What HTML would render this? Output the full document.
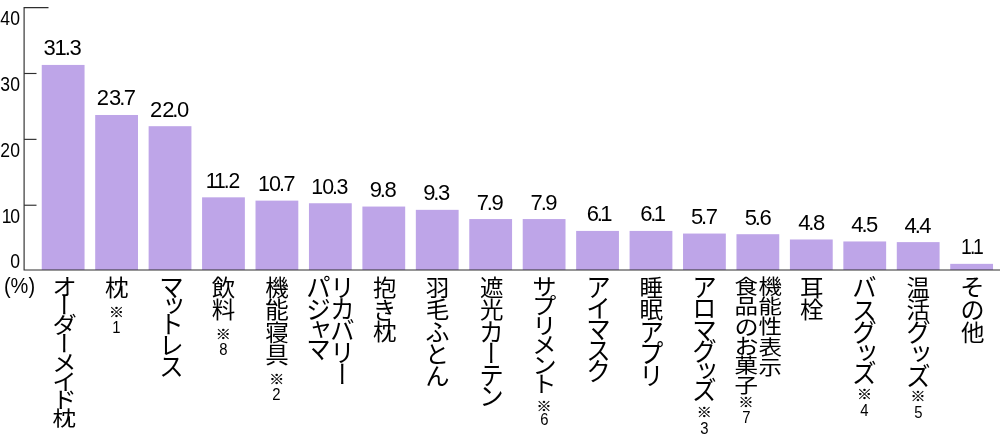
<!DOCTYPE html>
<html lang="ja"><head><meta charset="utf-8"><title>chart</title>
<style>
html,body{margin:0;padding:0;background:#fff;}
body{width:1000px;height:434px;position:relative;overflow:hidden;font-family:"Liberation Sans","Noto Sans CJK JP",sans-serif;color:#000;}
svg{position:absolute;left:0;top:0;}
svg text{font-family:"Liberation Sans",sans-serif;fill:#000;}
.v{font-size:22px;}
.y{font-size:19.5px;}
.t{position:absolute;writing-mode:vertical-rl;font-family:"Noto Sans CJK JP",sans-serif;font-weight:400;font-size:23.5px;line-height:23.5px;width:23.5px;white-space:nowrap;transform:scaleY(0.957);transform-origin:50% 0;color:#000;}
.t i{display:inline-block;font-style:normal;transform:scale(1.06,1.15);margin-bottom:var(--ls);}
.t i.s{margin-top:-2px;margin-bottom:calc(var(--ls) - 2px);}
.t i.h{transform:scale(1.04,1.08);}
.t .r{font-size:15px;font-weight:700;-webkit-text-stroke:0.3px #000;position:relative;left:-0.7px;display:inline-block;margin-top:var(--rm);transform:scaleY(calc(var(--rs)*0.92));}
.t .n{font-family:"Liberation Sans",sans-serif;font-size:16.5px;text-orientation:upright;font-feature-settings:normal;display:inline-block;margin-top:var(--nm);transform:scale(0.9,var(--rs));}
</style></head><body>
<svg width="1000" height="434" viewBox="0 0 1000 434">

<rect x="41.75" y="64.93" width="42.80" height="205.07" fill="#bea5e8"/>
<rect x="95.19" y="114.99" width="42.80" height="155.01" fill="#bea5e8"/>
<rect x="148.63" y="126.19" width="42.80" height="143.81" fill="#bea5e8"/>
<rect x="202.07" y="197.33" width="42.80" height="72.67" fill="#bea5e8"/>
<rect x="255.51" y="200.62" width="42.80" height="69.38" fill="#bea5e8"/>
<rect x="308.95" y="203.25" width="42.80" height="66.75" fill="#bea5e8"/>
<rect x="362.39" y="206.55" width="42.80" height="63.45" fill="#bea5e8"/>
<rect x="415.83" y="209.84" width="42.80" height="60.16" fill="#bea5e8"/>
<rect x="469.27" y="219.06" width="42.80" height="50.94" fill="#bea5e8"/>
<rect x="522.71" y="219.06" width="42.80" height="50.94" fill="#bea5e8"/>
<rect x="576.15" y="230.92" width="42.80" height="39.08" fill="#bea5e8"/>
<rect x="629.59" y="230.92" width="42.80" height="39.08" fill="#bea5e8"/>
<rect x="683.03" y="233.55" width="42.80" height="36.45" fill="#bea5e8"/>
<rect x="736.47" y="234.21" width="42.80" height="35.79" fill="#bea5e8"/>
<rect x="789.91" y="239.48" width="42.80" height="30.52" fill="#bea5e8"/>
<rect x="843.35" y="241.46" width="42.80" height="28.54" fill="#bea5e8"/>
<rect x="896.79" y="242.12" width="42.80" height="27.88" fill="#bea5e8"/>
<rect x="950.23" y="263.85" width="42.80" height="6.15" fill="#bea5e8"/>
<g stroke="#2e2e2e" stroke-width="1.15" fill="none">
<path d="M48.5 7.6H24.1V270.0H1000"/>
<path d="M24.1 205.23H36.5"/>
<path d="M24.1 139.36H36.5"/>
<path d="M24.1 73.49H36.5"/>
</g>
<text class="y" transform="translate(19.90 24.80) scale(0.9 1)" text-anchor="end">40</text>
<text class="y" transform="translate(19.90 90.90) scale(0.9 1)" text-anchor="end">30</text>
<text class="y" transform="translate(19.90 157.40) scale(0.9 1)" text-anchor="end">20</text>
<text class="y" transform="translate(19.90 222.70) scale(0.9 1)" text-anchor="end" dx="0 -1.4">10</text>
<text class="y" transform="translate(19.90 267.80) scale(0.9 1)" text-anchor="end">0</text>
<text class="y" style="font-size:21.5px" transform="translate(19.5 293.0) scale(0.93 1)" text-anchor="middle">(%)</text>
<text class="v" transform="translate(62.65 55.43) scale(1 1)" text-anchor="middle" dx="0 -1.2 -2.0 -1.4">31.3</text>
<text class="v" transform="translate(116.49 105.49) scale(1 1)" text-anchor="middle" dx="0 0 -2.2 -1.4">23.7</text>
<text class="v" transform="translate(169.53 116.69) scale(1 1)" text-anchor="middle" dx="0 0 -2.2 -1.4">22.0</text>
<text class="v" transform="translate(222.97 187.83) scale(0.96 1)" text-anchor="middle" dx="0 -2.0 -2.0 -1.4">11.2</text>
<text class="v" transform="translate(276.81 191.12) scale(0.98 1)" text-anchor="middle" dx="0 -1.0 -2.2 -1.4">10.7</text>
<text class="v" transform="translate(329.85 193.75) scale(0.97 1)" text-anchor="middle" dx="0 -1.0 -2.2 -1.4">10.3</text>
<text class="v" transform="translate(383.29 197.05) scale(1 1)" text-anchor="middle" dx="0 -2.2 -1.4">9.8</text>
<text class="v" transform="translate(436.73 200.34) scale(1 1)" text-anchor="middle" dx="0 -2.2 -1.4">9.3</text>
<text class="v" transform="translate(490.17 209.56) scale(1 1)" text-anchor="middle" dx="0 -2.2 -1.4">7.9</text>
<text class="v" transform="translate(544.11 209.56) scale(1 1)" text-anchor="middle" dx="0 -2.2 -1.4">7.9</text>
<text class="v" transform="translate(599.55 221.42) scale(1 1)" text-anchor="middle" dx="0 -2.2 -2.6">6.1</text>
<text class="v" transform="translate(653.19 221.42) scale(1 1)" text-anchor="middle" dx="0 -2.2 -2.6">6.1</text>
<text class="v" transform="translate(704.43 224.05) scale(1 1)" text-anchor="middle" dx="0 -2.2 -1.4">5.7</text>
<text class="v" transform="translate(758.27 224.71) scale(1 1)" text-anchor="middle" dx="0 -2.2 -1.4">5.6</text>
<text class="v" transform="translate(811.81 229.98) scale(1 1)" text-anchor="middle" dx="0 -2.2 -1.4">4.8</text>
<text class="v" transform="translate(864.85 231.96) scale(1 1)" text-anchor="middle" dx="0 -2.2 -1.4">4.5</text>
<text class="v" transform="translate(918.09 232.62) scale(1 1)" text-anchor="middle" dx="0 -2.2 -1.4">4.4</text>
<text class="v" transform="translate(972.43 254.35) scale(0.88 1)" text-anchor="middle" dx="0 -2.0 -2.6">1.1</text>
</svg>
<div class="t" style="left:51.70px;top:276.30px;transform:scaleY(0.862);--ls:-1.6px;--rs:1.110;--rm:6px;--nm:0.3px"><i>オ</i><i>ー</i><i>ダ</i><i>ー</i><i>メ</i><i>イ</i><i>ド</i>枕</div>
<div class="t" style="left:105.14px;top:276.30px;--ls:-1.1px;--rs:1.000;--rm:6px;--nm:0.3px">枕<span class="r">※</span><span class="n">1</span></div>
<div class="t" style="left:158.58px;top:276.30px;--ls:-1.9px;--rs:1.000;--rm:6px;--nm:0.3px"><i>マ</i><i class="s">ッ</i><i>ト</i><i>レ</i><i>ス</i></div>
<div class="t" style="left:212.02px;top:276.30px;--ls:-1.1px;--rs:1.000;--rm:6px;--nm:0.3px">飲料<span class="r">※</span><span class="n">8</span></div>
<div class="t" style="left:265.46px;top:276.30px;--ls:-1.1px;--rs:1.000;--rm:6px;--nm:0.3px">機能寝具<span class="r">※</span><span class="n">2</span></div>
<div class="t" style="left:330.05px;top:276.30px;--ls:-0.85px;--rs:1.000;--rm:6px;--nm:0.3px"><i>リ</i><i>カ</i><i>バ</i><i>リ</i><i>ー</i></div>
<div class="t" style="left:306.45px;top:276.30px;--ls:-0.45px;--rs:1.000;--rm:6px;--nm:0.3px"><i>パ</i><i>ジ</i><i class="s">ャ</i><i>マ</i></div>
<div class="t" style="left:372.34px;top:276.30px;--ls:-1.1px;--rs:1.000;--rm:6px;--nm:0.3px">抱<i class="h">き</i>枕</div>
<div class="t" style="left:424.98px;top:276.30px;--ls:-1.1px;--rs:1.000;--rm:6px;--nm:0.3px">羽毛<i class="h">ふ</i><i class="h">と</i><i class="h">ん</i></div>
<div class="t" style="left:479.22px;top:276.30px;--ls:-1.1px;--rs:1.000;--rm:6px;--nm:0.3px">遮光<i>カ</i><i>ー</i><i>テ</i><i>ン</i></div>
<div class="t" style="left:532.66px;top:276.30px;transform:scaleY(0.862);--ls:-1.1px;--rs:1.110;--rm:9px;--nm:-1.2px"><i>サ</i><i>プ</i><i>リ</i><i>メ</i><i>ン</i><i>ト</i><span class="r">※</span><span class="n">6</span></div>
<div class="t" style="left:586.10px;top:276.30px;--ls:-1.6px;--rs:1.000;--rm:6px;--nm:0.3px"><i>ア</i><i>イ</i><i>マ</i><i>ス</i><i>ク</i></div>
<div class="t" style="left:638.84px;top:276.30px;--ls:-1.1px;--rs:1.000;--rm:6px;--nm:0.3px">睡眠<i>ア</i><i>プ</i><i>リ</i></div>
<div class="t" style="left:692.98px;top:276.30px;--ls:-1.1px;--rs:1.000;--rm:4.3px;--nm:0.19999999999999998px"><i>ア</i><i>ロ</i><i>マ</i><i>グ</i><i class="s">ッ</i><i>ズ</i><span class="r">※</span><span class="n">3</span></div>
<div class="t" style="left:757.67px;top:276.30px;transform:scaleY(0.862);--ls:-1.1px;--rs:1.110;--rm:6px;--nm:0.3px">機能性表示</div>
<div class="t" style="left:734.67px;top:276.30px;transform:scaleY(0.862);--ls:-1.1px;--rs:1.110;--rm:0.5px;--nm:0.3px">食品<i class="h">の</i><i class="h">お</i>菓子<span class="r">※</span><span class="n">7</span></div>
<div class="t" style="left:799.16px;top:276.30px;--ls:-1.1px;--rs:1.000;--rm:6px;--nm:0.3px">耳栓</div>
<div class="t" style="left:853.30px;top:276.30px;--ls:0px;--rs:1.000;--rm:2px;--nm:0.3px"><i>バ</i><i>ス</i><i>グ</i><i class="s">ッ</i><i>ズ</i><span class="r">※</span><span class="n">4</span></div>
<div class="t" style="left:906.74px;top:276.30px;--ls:1.5px;--rs:1.000;--rm:0px;--nm:0.3px">温活<i>グ</i><i class="s">ッ</i><i>ズ</i><span class="r">※</span><span class="n">5</span></div>
<div class="t" style="left:960.18px;top:276.30px;--ls:0px;--rs:1.000;--rm:6px;--nm:0.3px"><i class="h">そ</i><i class="h">の</i>他</div>
</body></html>
